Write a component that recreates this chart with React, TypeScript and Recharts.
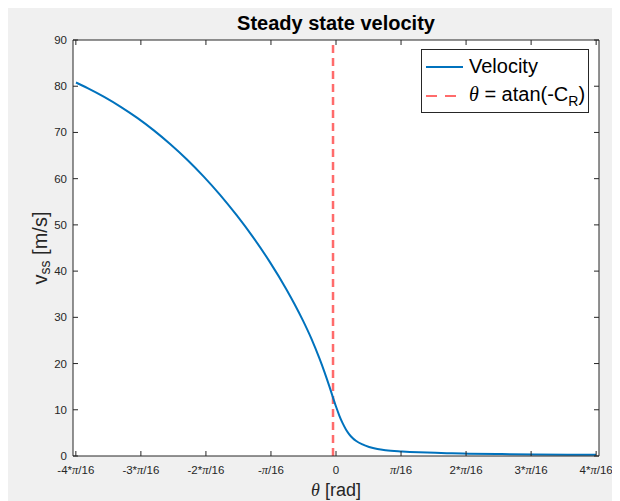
import React from 'react';
import { LineChart, Line, XAxis, YAxis, ReferenceLine, CartesianGrid, Legend } from 'recharts';

const THETA = [-0.785, -0.75, -0.7, -0.65, -0.6, -0.55, -0.5, -0.45, -0.4, -0.35, -0.3, -0.25, -0.2, -0.15, -0.125, -0.1, -0.075, -0.05, -0.035, -0.02, -0.01, 0, 0.01, 0.02, 0.03, 0.04, 0.05, 0.06, 0.08, 0.1, 0.125, 0.15, 0.2, 0.25, 0.3, 0.35, 0.4, 0.5, 0.6, 0.7, 0.785];
const VSS = [80.8, 79.6, 77.7, 75.55, 73.15, 70.45, 67.45, 64.15, 60.5, 56.5, 52.1, 47.3, 42.0, 36.1, 32.85, 29.35, 25.5, 21.1, 18.2, 15.05, 12.85, 10.7, 8.75, 7.1, 5.75, 4.7, 3.9, 3.3, 2.5, 1.96, 1.51, 1.25, 1.0, 0.82, 0.69, 0.59, 0.51, 0.41, 0.34, 0.29, 0.26];

const X_TICK_MULTS = [-4, -3, -2, -1, 0, 1, 2, 3, 4];
const X_TICK_LABELS = ['-4*π/16', '-3*π/16', '-2*π/16', '-π/16', '0', 'π/16', '2*π/16', '3*π/16', '4*π/16'];
const X_TICKS = X_TICK_MULTS.map((k) => (k * Math.PI) / 16);
const Y_TICKS = [0, 10, 20, 30, 40, 50, 60, 70, 80, 90];
const X_DOMAIN: [number, number] = [-0.794, 0.794];
const Y_DOMAIN: [number, number] = [0, 90];
const ATAN_CR = -0.009;

const TITLE = 'Steady state velocity';
const SERIES_NAME = 'Velocity';

const data = THETA.map((t, i) => ({ theta: t, v: VSS[i] }));

const W = 612;
const H = 493;
const MARGIN = { top: 32, right: 21, bottom: 0, left: 0 };
const Y_AXIS_W = 65;
const X_AXIS_H = 45;
const PLOT_W = W - MARGIN.left - MARGIN.right - Y_AXIS_W;
const PLOT_H = H - MARGIN.top - MARGIN.bottom - X_AXIS_H;

const AX = '#262626';
const BLUE = '#0072BD';
const RED = '#FF6B6B';
const SANS = '"Liberation Sans", Arial, Helvetica, sans-serif';
const SERIF = '"Liberation Serif", "Times New Roman", serif';

const renderPiLabel = (label: string) => {
  const parts = label.split('π');
  const out: React.ReactNode[] = [];
  parts.forEach((p, i) => {
    if (p) out.push(<tspan key={'p' + i}>{p}</tspan>);
    if (i < parts.length - 1)
      out.push(
        <tspan key={'pi' + i} fontFamily={SERIF} fontStyle="italic" fontSize={12.5}>
          π
        </tspan>
      );
  });
  return out;
};

const XTick = (props: any) => {
  const { x, y, payload } = props;
  const idx = X_TICKS.findIndex((t) => Math.abs(t - payload.value) < 1e-6);
  const label = idx >= 0 ? X_TICK_LABELS[idx] : '';
  return (
    <g>
      <line x1={x} y1={y} x2={x} y2={y - 5} stroke={AX} strokeWidth={1} />
      <line x1={x} y1={y - PLOT_H} x2={x} y2={y - PLOT_H + 5} stroke={AX} strokeWidth={1} />
      <text x={x} y={y + 18} textAnchor="middle" fontFamily={SANS} fontSize={11.5} fill={AX}>
        {renderPiLabel(label)}
      </text>
    </g>
  );
};

const YTick = (props: any) => {
  const { x, y, payload } = props;
  return (
    <g>
      <line x1={x} y1={y} x2={x + 5} y2={y} stroke={AX} strokeWidth={1} />
      <line x1={x + PLOT_W} y1={y} x2={x + PLOT_W - 5} y2={y} stroke={AX} strokeWidth={1} />
      <text x={x - 6} y={y + 4} textAnchor="end" fontFamily={SANS} fontSize={11.5} fill={AX}>
        {payload.value}
      </text>
    </g>
  );
};

const YLabel = (props: any) => {
  const vb = props.viewBox || {};
  const cx = (vb.x ?? 0) + 32;
  const cy = (vb.y ?? 0) + (vb.height ?? 0) / 2;
  return (
    <text
      x={cx}
      y={cy}
      transform={`rotate(-90, ${cx}, ${cy})`}
      textAnchor="middle"
      dominantBaseline="central"
      fontFamily={SANS}
      fontSize={20}
      fill={AX}
    >
      <tspan>v</tspan>
      <tspan dy={5} fontSize={14}>ss</tspan>
      <tspan dy={-5}> [m/s]</tspan>
    </text>
  );
};

const XLabel = (props: any) => {
  const vb = props.viewBox || {};
  const cx = (vb.x ?? 0) + (vb.width ?? 0) / 2;
  const cy = (vb.y ?? 0) + 40;
  return (
    <text x={cx} y={cy} textAnchor="middle" fontFamily={SANS} fontSize={18} fill={AX}>
      <tspan fontFamily={SERIF} fontStyle="italic">θ</tspan>
      <tspan> [rad]</tspan>
    </text>
  );
};

const LegendBox = () => (
  <div
    style={{
      width: 168,
      height: 64,
      boxSizing: 'border-box',
      border: `1px solid ${AX}`,
      background: '#ffffff',
      fontFamily: SANS,
      fontSize: 20,
      color: '#000',
      padding: '2px 0 0 3px',
    }}
  >
    <div style={{ display: 'flex', alignItems: 'center', height: 29 }}>
      <svg width={42} height={20} style={{ marginRight: 2 }}>
        <line x1={1} y1={10} x2={38} y2={10} stroke={BLUE} strokeWidth={2} />
      </svg>
      <span>{SERIES_NAME}</span>
    </div>
    <div style={{ display: 'flex', alignItems: 'center', height: 29 }}>
      <svg width={42} height={20} style={{ marginRight: 2 }}>
        <line x1={1} y1={10} x2={38} y2={10} stroke={RED} strokeWidth={2} strokeDasharray="11 8" />
      </svg>
      <span>
        <span style={{ fontFamily: SERIF, fontStyle: 'italic' }}>θ</span> = atan(-C
        <sub style={{ fontSize: 14 }}>R</sub>)
      </span>
    </div>
  </div>
);

export default function App() {
  return (
    <div style={{ position: 'relative', width: W, height: H, background: '#f0f0f0' }}>
      <div
        style={{
          position: 'absolute',
          left: MARGIN.left + Y_AXIS_W,
          width: PLOT_W,
          top: 3,
          textAlign: 'center',
          fontFamily: SANS,
          fontWeight: 'bold',
          fontSize: 20,
          color: '#000',
          lineHeight: '24px',
        }}
      >
        {TITLE}
      </div>
      <LineChart width={W} height={H} data={data} margin={MARGIN}>
        <CartesianGrid horizontal={false} vertical={false} fill="#ffffff" />
        <XAxis
          dataKey="theta"
          type="number"
          domain={X_DOMAIN}
          ticks={X_TICKS}
          allowDataOverflow
          height={X_AXIS_H}
          tickSize={0}
          tickMargin={0}
          tickLine={false}
          axisLine={{ stroke: AX, strokeWidth: 1 }}
          tick={<XTick />}
          interval={0}
          label={<XLabel />}
        />
        <YAxis
          type="number"
          domain={Y_DOMAIN}
          ticks={Y_TICKS}
          allowDataOverflow
          width={Y_AXIS_W}
          tickSize={0}
          tickMargin={0}
          tickLine={false}
          axisLine={{ stroke: AX, strokeWidth: 1 }}
          tick={<YTick />}
          interval={0}
          label={<YLabel />}
        />
        <ReferenceLine y={Y_DOMAIN[1]} stroke={AX} strokeWidth={1} />
        <ReferenceLine x={X_DOMAIN[1]} stroke={AX} strokeWidth={1} />
        <ReferenceLine x={ATAN_CR} stroke={RED} strokeWidth={2.5} strokeDasharray="8 5" />
        <Line
          type="monotone"
          dataKey="v"
          name={SERIES_NAME}
          stroke={BLUE}
          strokeWidth={2}
          dot={false}
          isAnimationActive={false}
        />
        <Legend
          layout="vertical"
          align="center"
          verticalAlign="middle"
          content={<LegendBox />}
          wrapperStyle={{ left: 413, top: 41, width: 168, height: 64, right: 'auto', bottom: 'auto' }}
        />
      </LineChart>
    </div>
  );
}
